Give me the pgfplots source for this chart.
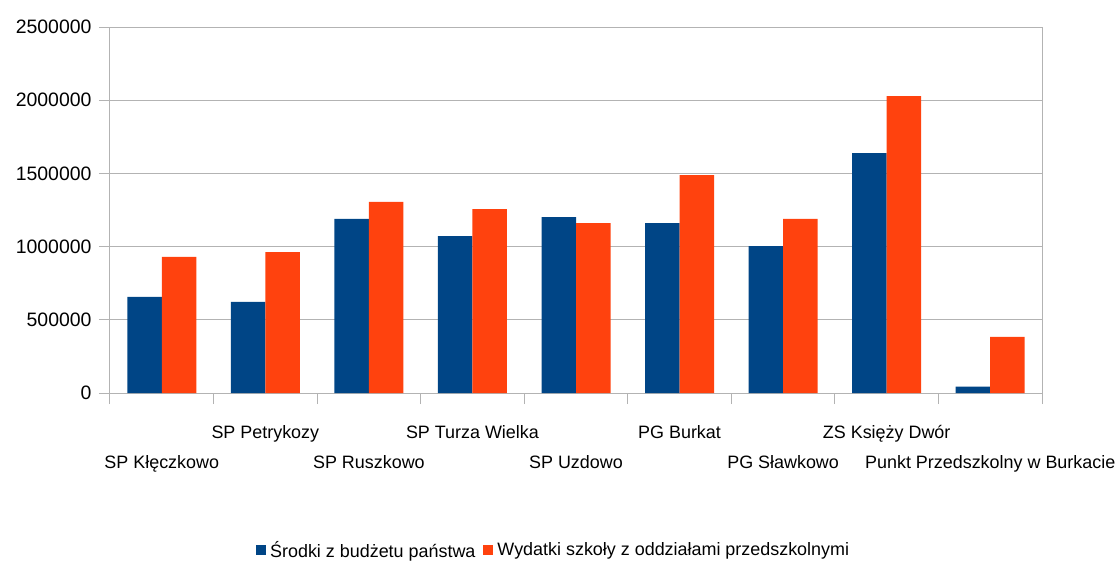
\documentclass[border=0pt]{standalone}
\usepackage{pgfplots}
\pgfplotsset{compat=1.18}
\usepackage{fontspec}
\setmainfont{Liberation Sans}
\usetikzlibrary{calc}
\definecolor{sblue}{HTML}{004586}
\definecolor{sorange}{HTML}{FF420E}
\definecolor{gridc}{HTML}{B3B3B3}
\begin{document}
\begin{tikzpicture}
\begin{axis}[
  name=ax,
  scale only axis,
  width=932bp, height=366bp,
  xmin=-0.5, xmax=8.5,
  ymin=0, ymax=2500000,
  ytick={0,500000,1000000,1500000,2000000,2500000},
  scaled y ticks=false,
  yticklabel style={font=\fontsize{19.5}{22}\selectfont, xshift=-4bp, /pgf/number format/fixed, /pgf/number format/1000 sep={}, /pgf/number format/assume math mode=true},
  ymajorgrids,
  grid style={gridc, line width=0.8bp},
  axis line style={gridc, line width=1bp},
  tick style={gridc, line width=1bp},
  tick align=outside,
  xtick pos=bottom, ytick pos=left,
  major tick length=11bp,
  xtick={-0.5,0.5,...,8.5},
  xticklabels={},
  extra x ticks={0,1,2,3,4,5,6,7,8},
  extra x tick labels={
    {\strut\\\strut SP Kłęczkowo},
    {\strut SP Petrykozy},
    {\strut\\\strut SP Ruszkowo},
    {\strut SP Turza Wielka},
    {\strut\\\strut SP Uzdowo},
    {\strut PG Burkat},
    {\strut\\\strut PG Sławkowo},
    {\strut ZS Księży Dwór},
    {\strut\\\strut Punkt Przedszkolny w Burkacie}},
  extra x tick style={major tick length=0pt, xticklabel style={align=center, font=\fontsize{18}{30}\selectfont, yshift=-21bp}},
  ybar=0pt,
  bar width=34.5bp,
  legend style={at={(0.476,-0.429)}, anchor=center, draw=none, legend columns=-1,
    font=\fontsize{18}{22}\selectfont, /tikz/every even column/.append style={column sep=6bp}},
  legend image code/.code={\fill[#1] (0bp,-5bp) rectangle (10bp,5bp); \path (12bp,0bp);},
]
\addplot[fill=sblue, draw=none] coordinates {
 (0,656000) (1,622000) (2,1190000) (3,1072000) (4,1202000) (5,1161000) (6,1004000) (7,1638000) (8,43000)};
\addplot[fill=sorange, draw=none] coordinates {
 (0,929000) (1,963000) (2,1305000) (3,1256000) (4,1161000) (5,1489000) (6,1189000) (7,2027000) (8,384000)};
\legend{Środki z budżetu państwa, Wydatki szkoły z oddziałami przedszkolnymi}
\end{axis}
\pgfresetboundingbox
\path[use as bounding box] ($(ax.south west)+(-110bp,-172bp)$) rectangle ($(ax.north east)+(74bp,27bp)$);
\end{tikzpicture}
\end{document}
